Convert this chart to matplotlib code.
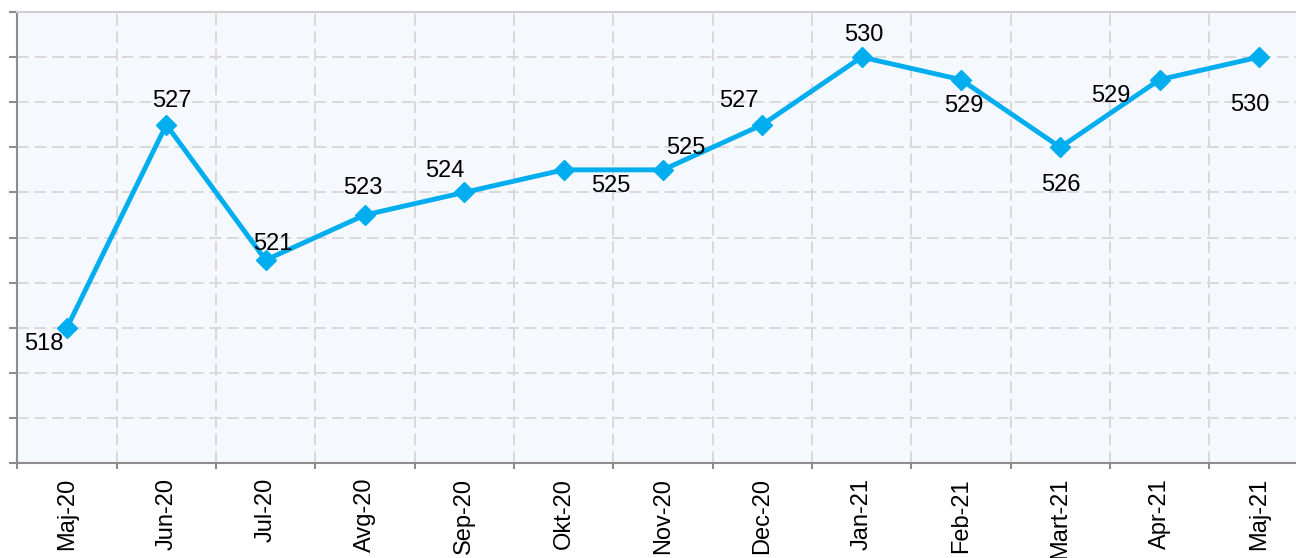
import numpy as np
import matplotlib
matplotlib.use('Agg')
import matplotlib.pyplot as plt
from matplotlib.ticker import FixedLocator

# 全局字体：类似 Arial
plt.rcParams['font.family'] = ['Liberation Sans', 'DejaVu Sans']
plt.rcParams['font.size'] = 17

# ---------------------- 数据 ----------------------
months = ['Maj-20', 'Jun-20', 'Jul-20', 'Avg-20', 'Sep-20', 'Okt-20', 'Nov-20',
          'Dec-20', 'Jan-21', 'Feb-21', 'Mart-21', 'Apr-21', 'Maj-21']
values = [518, 527, 521, 523, 524, 525, 525, 527, 530, 529, 526, 529, 530]
# 数据标签偏移（像素：右为正，上为正）
label_dx = [-23, 6, 7, -2, -19, 47, 23, -23, 2, 3, 1, -49, -9]
label_dy = [-16, 24, 16, 27, 21, -16, 22, 24, 22, -26, -38, -16, -48]

x = np.arange(len(months))
line_color = '#00AEEF'
grid_color = '#D9D9D9'
axis_color = '#8C8C8C'

fig = plt.figure(figsize=(12.96, 5.58), dpi=100)
# 坐标区：左边和底部与原图对齐，右侧略超出画布（原图被裁切）
left_px, right_px, top_px, bottom_px = 17.3, 1308.6, 12, 463
ax = fig.add_axes([left_px / 1296, (558 - bottom_px) / 558,
                   (right_px - left_px) / 1296, (bottom_px - top_px) / 558])
ax.set_facecolor('#F5F8FC')

ax.plot(x, values, color=line_color, linewidth=3.5, marker='D',
        markersize=10.5, markerfacecolor=line_color, markeredgecolor=line_color,
        zorder=3, clip_on=False)

# 数据标签
for xi, v, dx, dy in zip(x, values, label_dx, label_dy):
    ax.annotate(str(v), (xi, v), xytext=(dx * 0.72, dy * 0.72),
                textcoords='offset points', ha='center', va='center',
                fontsize=17, color='black', zorder=4)

ax.set_xlim(-0.5, len(months) - 0.5)
ax.set_ylim(512, 532)

# x 轴：标签在类别中心，刻度线在类别边界
ax.set_xticks(x)
ax.set_xticklabels(months, rotation=90, va='top', ha='center')
ax.xaxis.set_minor_locator(FixedLocator(np.arange(-0.5, len(months), 1.0)))
ax.tick_params(axis='x', which='major', length=0, pad=10.8, labelsize=17)
ax.tick_params(axis='x', which='minor', length=4.5, width=1.5,
               color=axis_color, direction='out')

# y 轴：只有刻度线，没有数字
ax.set_yticks(np.arange(512, 533, 2))
ax.set_yticklabels([])
ax.tick_params(axis='y', length=6, width=1.5, color=axis_color, direction='out')

# 网格
ax.grid(True, which='minor', axis='x', color=grid_color, linestyle=(0, (6, 3)),
        linewidth=1.4)
ax.grid(True, which='major', axis='y', color=grid_color, linestyle=(0, (6, 3)),
        linewidth=1.4)
ax.grid(False, which='major', axis='x')
ax.set_axisbelow(True)

# 边框
ax.spines['left'].set_color(axis_color)
ax.spines['left'].set_linewidth(1.5)
ax.spines['bottom'].set_color(axis_color)
ax.spines['bottom'].set_linewidth(1.5)
ax.spines['top'].set_color('#D0D0D0')
ax.spines['top'].set_linewidth(1.5)
ax.spines['right'].set_visible(False)

fig.savefig('out.png', dpi=100)
